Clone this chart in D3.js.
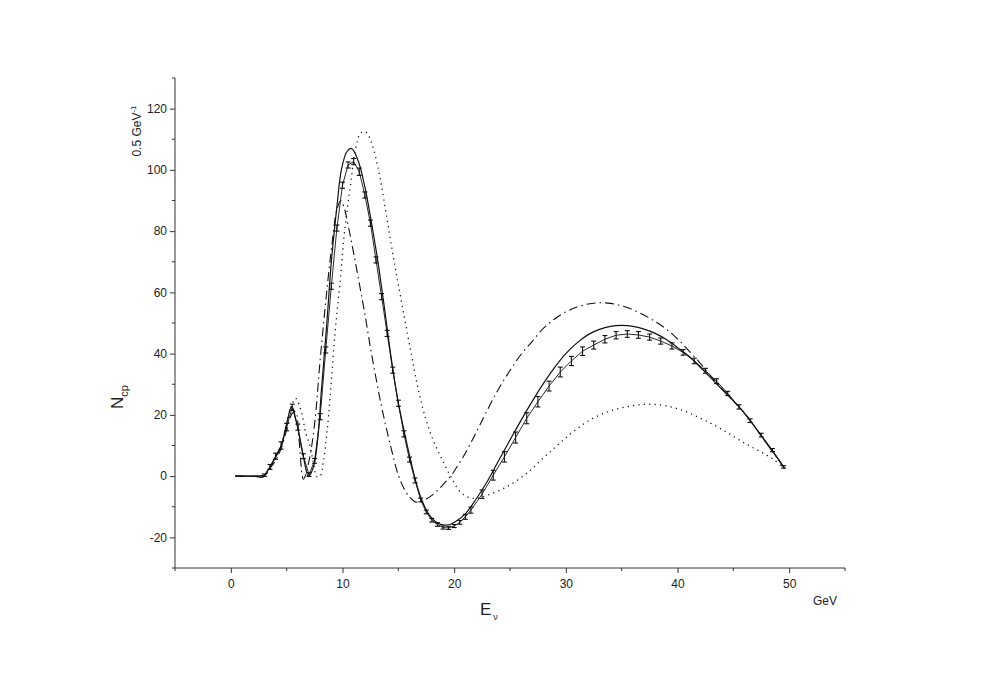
<!DOCTYPE html>
<html>
<head>
<meta charset="utf-8">
<script src="https://cdn.jsdelivr.net/npm/d3@7"></script>
<style>
  body { margin: 0; background: #fff; }
  svg text { font-family: "Liberation Sans", Arial, sans-serif; fill: #222; }
</style>
</head>
<body>
<svg id="chart" width="981" height="683"></svg>
<script>
// --- measured spectrum with error bars ---
const dataE = [0.5, 1, 1.5, 2, 2.5, 3, 3.5, 4, 4.5, 5, 5.5, 6, 6.5, 7, 7.5, 8, 8.5, 9, 9.5, 10,
  10.5, 11, 11.5, 12, 12.5, 13, 13.5, 14, 14.5, 15, 15.5, 16, 16.5, 17, 17.5, 18, 18.5, 19, 19.5, 20,
  20.5, 21, 21.5, 22.5, 23.5, 24.5, 25.5, 26.5, 27.5, 28.5, 29.5, 30.5, 31.5, 32.5, 33.5, 34.5,
  35.5, 36.5, 37.5, 38.5, 39.5, 40.5, 41.5, 42.5, 43.5, 44.5, 45.5, 46.5, 47.5, 48.5, 49.5];
const dataN = [0, 0, 0, 0, 0, 0.3, 3, 6.5, 10, 16, 22.5, 16, 6.5, 0.5, 5, 19.4, 41.2, 62, 81, 95,
  101.6, 102.7, 99.4, 91.8, 82.6, 70.6, 58.6, 46.6, 34.6, 23.8, 13.8, 5.4, -1.4, -7.8, -11.7, -14.4, -15.8, -16.8, -16.9, -16.3,
  -15.1, -13.3, -11.1, -5.9, 0.3, 6.3, 12.6, 18.9, 24.3, 29.4, 34, 37.6, 40.8, 42.8, 44.7, 46,
  46.4, 46.1, 45.4, 44.1, 42.5, 40.4, 37.6, 34.4, 31, 27, 22.6, 18.1, 13.4, 8.5, 3];
const dataErr = [0, 0, 0, 0, 0, 0.4, 0.8, 1, 1.2, 1.2, 1, 1, 0.8, 0.6, 0.8, 1, 1, 1, 1, 1,
  1, 1, 1.2, 1, 1, 1, 1, 1, 1, 1, 1, 0.8, 0.8, 0.6, 0.6, 0.6, 0.6, 0.5, 0.5, 0.5,
  0.6, 0.8, 1, 1.4, 1.6, 1.7, 1.8, 1.8, 1.7, 1.6, 1.6, 1.5, 1.4, 1.3, 1.2, 1.2,
  1.1, 1.1, 1, 1, 1, 0.9, 0.9, 0.8, 0.8, 0.7, 0.7, 0.6, 0.6, 0.5, 0.4];

// --- solid curve ---
const solidE = [0.4, 1, 2, 2.9, 3.35, 3.95, 4.55, 5.0, 5.45, 5.9, 6.5, 6.95, 7.4, 7.8, 8.1, 8.6, 9.0,
  9.5, 9.9, 10.4, 10.8, 11.4, 12, 12.5, 13.1, 13.7, 14.3, 14.9, 15.5, 16.1, 16.7, 17.3, 17.9, 18.5,
  19.1, 19.6, 20.1, 21, 22, 23, 24, 25, 26, 27, 28, 29, 30, 31, 32, 33, 34, 35, 36, 37, 38, 39, 40,
  41, 42, 43, 44, 45, 46, 47, 48, 49, 49.6];
const solidN = [0, 0, 0, -0.3, 2, 5.8, 10.1, 17.2, 22.8, 17.2, 6.3, 0, 3, 12.8, 27.5, 50, 70,
  88, 100, 106, 107, 103, 94.5, 84.7, 71.7, 56.4, 40.1, 25.9, 15, 5.2, -3.5, -9.5, -13.3, -15.3,
  -16, -15.8, -14.9, -12.3, -7.3, -1.5, 5.2, 11.8, 18.3, 24.5, 30.3, 35.5, 40, 43.5, 46.2, 47.9, 48.9, 49.2, 48.9, 48, 46.6, 44.6, 42,
  39.2, 35.7, 32, 28.3, 24.6, 20.6, 15.7, 10.6, 5.6, 2.5];

// --- dash-dot curve ---
const dashDotE = [0.4, 1, 2, 3, 3.5, 4, 4.5, 5, 5.5, 5.8, 6.1, 6.5, 7, 7.5, 8, 8.5, 9, 9.5, 9.85,
  10.2, 10.5, 11, 11.5, 12, 12.5, 13, 13.5, 14, 14.5, 15, 15.5, 16, 16.6, 17, 17.5, 18, 18.5, 19,
  19.5, 20, 20.5, 21, 22, 23, 24, 25, 26, 27, 28, 29, 30, 31, 32, 33, 34, 35, 36, 37, 38, 39, 40,
  41, 42, 43, 44, 45, 46, 47, 48, 49, 49.6];
const dashDotN = [0, 0, 0, 0.3, 2.5, 5, 9, 15, 20.5, 21, 12, -1, 5, 17, 38, 57, 74, 87, 90,
  87, 82, 72.8, 63, 53, 42, 32, 22.6, 14.5, 7, 0.3, -4, -6.8, -8.5, -8.3, -7.5, -6.3, -4.7, -2.8,
  -0.8, 1.6, 4.5, 7.5, 14.5, 21.8, 28.6, 34.5, 39.8, 44, 48.3, 51.3, 53.6, 55.2, 56.2, 56.6, 56.4, 55.6, 54.3, 52.6, 50.5, 48, 44.8,
  41, 37, 32.6, 28.5, 24.6, 20.6, 15.7, 10.6, 5.6, 2.5];

// --- dotted curve ---
const dottedE = [0.4, 1, 2, 3, 3.5, 4, 4.5, 5, 5.45, 5.8, 6.35, 6.65, 7.1, 7.4, 7.7, 8.0, 8.3, 8.6,
  8.9, 9.3, 9.8, 10.2, 10.7, 11.1, 11.6, 12.0, 12.3, 12.8, 13.4, 14, 14.6, 15.2, 16.1, 16.8, 17.4, 18,
  18.8, 19.7, 20.7, 21.8, 23, 24.7, 26.5, 28, 29, 30, 31, 32, 33, 34, 35, 36, 37, 38, 39, 40,
  41, 42, 43, 44, 45, 46, 47, 48, 48.7, 49.5];
const dottedN = [0, 0, 0, 0.3, 2.5, 5.5, 10, 17, 23, 25.4, 20.5, 15, 9.6, 4.1, -0.2, 0, 5, 14,
  26, 45.5, 64, 80.4, 94.5, 105.5, 112, 112.5, 111.4, 106.5, 96.7, 83.7, 70.6, 58.6, 41, 28.1, 19.4, 12.8,
  6.3, -0.2, -5.7, -7.3, -6.2, -3.5, 0.9, 6, 9.3, 12.5, 15.4, 18, 19.9, 21.3, 22.3, 23, 23.4, 23.4, 22.9, 22,
  20.7, 19, 17.2, 15.2, 13, 10.8, 8.8, 6.8, 5.2, 2.5];

// --- axis ticks ---
const xTicks = [0, 10, 20, 30, 40, 50];
const xMinor = [-5, 5, 15, 25, 35, 45, 55];
const yTicks = [-20, 0, 20, 40, 60, 80, 100, 120];
const yMinor = [-30, -10, 10, 30, 50, 70, 90, 110, 130];

const svg = d3.select('#chart');
const x = d3.scaleLinear().domain([-5, 55]).range([175, 845]);
const y = d3.scaleLinear().domain([-30, 130]).range([568, 78]);
const axisColor = '#333';

// axes (hyphen for negatives, like the original plot)
const fmt = d => String(d);
const xAx = svg.append('g').attr('transform', `translate(0,${y(-30)})`);
xAx.call(d3.axisBottom(x).tickValues(xTicks).tickSize(5).tickPadding(6).tickFormat(fmt));
xAx.append('g').selectAll('line').data(xMinor).enter().append('line')
  .attr('x1', d => x(d)).attr('x2', d => x(d)).attr('y1', 0).attr('y2', 3);
const yAx = svg.append('g').attr('transform', `translate(${x(-5)},0)`);
yAx.call(d3.axisLeft(y).tickValues(yTicks).tickSize(5).tickPadding(3).tickFormat(fmt));
yAx.append('g').selectAll('line').data(yMinor).enter().append('line')
  .attr('x1', 0).attr('x2', -3).attr('y1', d => y(d)).attr('y2', d => y(d));
[xAx, yAx].forEach(g => {
  g.select('.domain').remove();
  g.selectAll('line').attr('stroke', axisColor);
  g.selectAll('text').attr('font-size', 12).attr('fill', '#222')
    .attr('font-family', '"Liberation Sans", Arial, sans-serif');
});
svg.append('line').attr('x1', x(-5)).attr('x2', x(55)).attr('y1', y(-30)).attr('y2', y(-30))
  .attr('stroke', axisColor).attr('stroke-width', 1);
svg.append('line').attr('x1', x(-5)).attr('x2', x(-5)).attr('y1', y(-30)).attr('y2', y(130))
  .attr('stroke', axisColor).attr('stroke-width', 1);

// curves
const line = d3.line().x(d => x(d[0])).y(d => y(d[1])).curve(d3.curveCatmullRom.alpha(0.5));
function curve(es, ns, dash, w) {
  svg.append('path').datum(es.map((e, i) => [e, ns[i]]))
    .attr('d', line).attr('fill', 'none').attr('stroke', '#111')
    .attr('stroke-width', w).attr('stroke-dasharray', dash);
}
curve(dottedE, dottedN, '1.2,4.2', 1.3);
curve(dashDotE, dashDotN, '9,4,1.5,4', 1.1);
curve(solidE, solidN, null, 1.2);

// measured points: thin connecting line plus error bars
const pts = dataE.map((e, i) => ({ e: e, n: dataN[i], s: dataErr[i] }));
svg.append('path').datum(pts)
  .attr('d', d3.line().x(d => x(d.e)).y(d => y(d.n)))
  .attr('fill', 'none').attr('stroke', '#111').attr('stroke-width', 0.9);
const withErr = pts.filter(d => d.s > 0);
const eb = svg.append('g').attr('stroke', '#111').attr('stroke-width', 1.1);
eb.selectAll('line.v').data(withErr).enter().append('line')
  .attr('x1', d => x(d.e)).attr('x2', d => x(d.e))
  .attr('y1', d => y(d.n - d.s)).attr('y2', d => y(d.n + d.s));
eb.selectAll('line.t').data(withErr).enter().append('line')
  .attr('x1', d => x(d.e) - 2.5).attr('x2', d => x(d.e) + 2.5)
  .attr('y1', d => y(d.n + d.s)).attr('y2', d => y(d.n + d.s));
eb.selectAll('line.b').data(withErr).enter().append('line')
  .attr('x1', d => x(d.e) - 2.5).attr('x2', d => x(d.e) + 2.5)
  .attr('y1', d => y(d.n - d.s)).attr('y2', d => y(d.n - d.s));

// axis titles
const yl = svg.append('text').attr('transform', 'translate(123,397) rotate(-90)')
  .attr('text-anchor', 'middle').attr('font-size', 17);
yl.append('tspan').text('N');
yl.append('tspan').attr('font-size', 11).attr('dy', 5).text('cp');

const yu = svg.append('text').attr('transform', 'translate(141,131) rotate(-90)')
  .attr('text-anchor', 'middle').attr('font-size', 12);
yu.append('tspan').text('0.5 GeV');
yu.append('tspan').attr('font-size', 8).attr('dy', -5).text('-1');

const xl = svg.append('text').attr('x', 480).attr('y', 615).attr('font-size', 17);
xl.append('tspan').text('E');
xl.append('tspan').attr('font-size', 9).attr('dy', 5).attr('dx', 2).text('ν');

svg.append('text').attr('x', 813).attr('y', 605).attr('font-size', 12).text('GeV');
</script>
</body>
</html>
